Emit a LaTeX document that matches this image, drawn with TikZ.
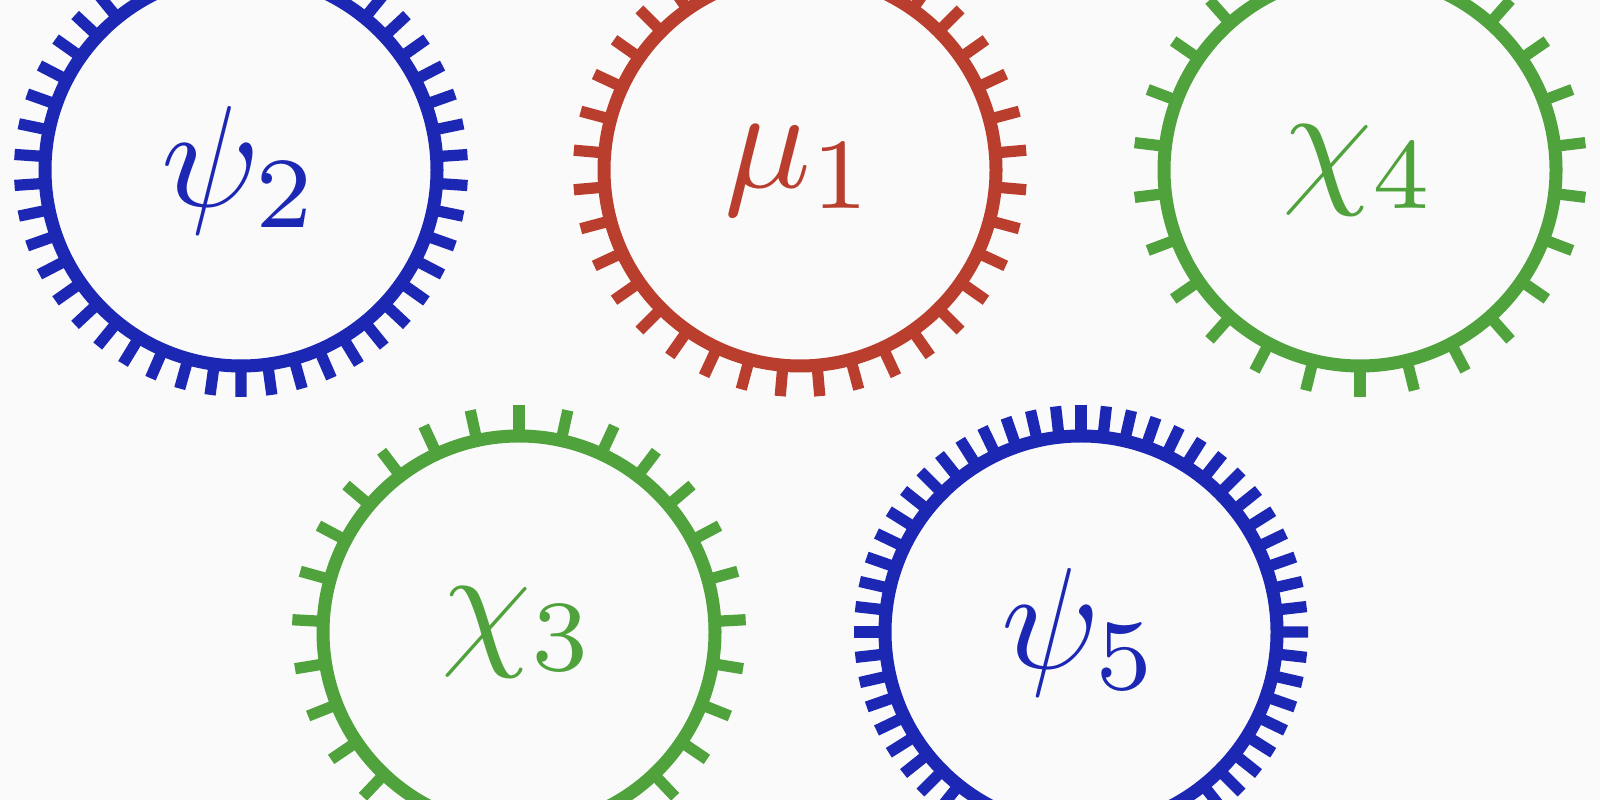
\documentclass[tikz,border=0pt]{standalone}
\usepackage{graphicx}
\usepackage{tikz}
\definecolor{ringblue}{HTML}{1C28B4}
\definecolor{ringred}{HTML}{B93E2D}
\definecolor{ringgreen}{HTML}{50A23C}
\definecolor{paper}{HTML}{FAFAFA}
\newcommand{\biglabel}[1]{\scalebox{4.1}{$#1$}}

\begin{document}
\begin{tikzpicture}[ring/.style={draw, circle, line width=3.7pt, minimum size=3.92cm, inner sep=0pt}, tooth/.style={line width=3.2pt, line cap=butt}]
\fill[paper] (0,0) rectangle (16,8);
\useasboundingbox (0,0) rectangle (16,8);
\node[ring, draw=ringblue, text=ringblue] (psitwo) at (2.41,6.30) {\biglabel{\psi_2}};
\node[ring, draw=ringred, text=ringred] (muone) at (8.00,6.30) {\biglabel{\mu_1}};
\node[ring, draw=ringgreen, text=ringgreen] (chifour) at (13.60,6.30) {\biglabel{\chi_4}};
\node[ring, draw=ringgreen, text=ringgreen] (chithree) at (5.19,1.68) {\biglabel{\chi_3}};
\node[ring, draw=ringblue, text=ringblue] (psifive) at (10.81,1.68) {\biglabel{\psi_5}};
% teeth: step in degrees = 360/n
\foreach \k in {0,...,45}
  \draw[tooth, ringblue] ([shift={({3.9+\k*7.8261}:1.9)}]psitwo.center) -- ([shift={({3.9+\k*7.8261}:2.27)}]psitwo.center);
\foreach \k in {0,...,35}
  \draw[tooth, ringred] ([shift={({5+\k*10}:1.9)}]muone.center) -- ([shift={({5+\k*10}:2.27)}]muone.center);
\foreach \k in {0,...,25}
  \draw[tooth, ringgreen] ([shift={({90+\k*13.8462}:1.9)}]chifour.center) -- ([shift={({90+\k*13.8462}:2.27)}]chifour.center);
\foreach \k in {0,...,28}
  \draw[tooth, ringgreen] ([shift={({90+\k*12.4138}:1.9)}]chithree.center) -- ([shift={({90+\k*12.4138}:2.27)}]chithree.center);
\foreach \k in {0,...,55}
  \draw[tooth, ringblue] ([shift={({90+\k*6.4286}:1.9)}]psifive.center) -- ([shift={({90+\k*6.4286}:2.27)}]psifive.center);
\end{tikzpicture}
\end{document}
